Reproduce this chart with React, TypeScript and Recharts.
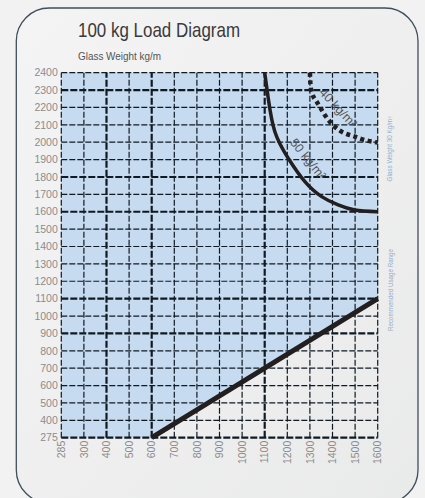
import React from "react";
import {
  Area,
  ComposedChart,
  Line,
  ReferenceDot,
  ReferenceLine,
  XAxis,
  YAxis,
} from "recharts";

// axis tick values (equally spaced on the drawing, not to scale)
const X_TICKS = [285, 300, 400, 500, 600, 700, 800, 900, 1000, 1100, 1200, 1300, 1400, 1500, 1600];
const Y_TICKS = [
  275, 400, 500, 600, 700, 800, 900, 1000, 1100, 1200, 1300, 1400, 1500, 1600, 1700, 1800, 1900,
  2000, 2100, 2200, 2300, 2400,
];
const X_HEAVY = [400, 600, 1100];
const Y_HEAVY = [900, 1100, 1600, 1800, 2300];

// recommended usage limit (lower edge of blue range)
const usageLimit = [
  { w: 600, g: 275 },
  { w: 1600, g: 1100 },
];

// 50 kg/m² glass weight curve
const curve50 = [
  { w: 1100, g: 2400 },
  { w: 1116, g: 2250 },
  { w: 1145, g: 2060 },
  { w: 1204, g: 1908 },
  { w: 1278, g: 1773 },
  { w: 1352, g: 1687 },
  { w: 1425, g: 1639 },
  { w: 1499, g: 1610 },
  { w: 1600, g: 1600 },
];

// 40 kg/m² glass weight curve
const curve40 = [
  { w: 1300, g: 2400 },
  { w: 1307, g: 2290 },
  { w: 1330, g: 2233 },
  { w: 1366, g: 2157 },
  { w: 1410, g: 2089 },
  { w: 1455, g: 2051 },
  { w: 1499, g: 2032 },
  { w: 1543, g: 2013 },
  { w: 1600, g: 1998 },
];

// position of a value along the evenly spaced ticks
const toIdx = (v: number, ticks: number[]) => {
  for (let i = 0; i < ticks.length - 1; i++) {
    if (v <= ticks[i + 1]) return i + (v - ticks[i]) / (ticks[i + 1] - ticks[i]);
  }
  return ticks.length - 1;
};

const pts = (arr: { w: number; g: number }[]) =>
  arr.map((p) => ({ x: toIdx(p.w, X_TICKS), y: toIdx(p.g, Y_TICKS) }));

const X_MAX = X_TICKS.length - 1;
const Y_MAX = Y_TICKS.length - 1;

const bandData = [
  { x: 0, band: [0, Y_MAX] },
  ...pts(usageLimit).map((p) => ({ x: p.x, band: [p.y, Y_MAX] })),
];

const narrow = "'Liberation Sans Narrow', 'Liberation Sans', Arial, sans-serif";
const gridColor = "#0f1a23";
const tickColor = "#8c8c8c";

const XTick = ({ x, y, payload }: any) => (
  <g transform={`translate(${x + 3.7},${y}) rotate(-90)`}>
    <text textAnchor="end" fontSize={10.5} fill={tickColor} fontFamily={narrow}>
      {X_TICKS[payload.value]}
    </text>
  </g>
);

const curveLabel = (text: string, angle: number) => (props: any) => (
  <text
    transform={`translate(${props.cx},${props.cy}) rotate(${angle})`}
    textAnchor="middle"
    dy={4}
    fontSize={12.5}
    fill="#555555"
    fontFamily={narrow}
  >
    {text}
  </text>
);

export default function App() {
  return (
    <div
      style={{
        position: "absolute",
        left: 0,
        top: 0,
        width: 425,
        height: 498,
        overflow: "hidden",
        background: "#f2f2f2",
      }}
    >
      <svg width={425} height={498} style={{ position: "absolute", left: 0, top: 0 }}>
        <defs>
          <linearGradient id="panelBg" x1="0" y1="0" x2="1" y2="1">
            <stop offset="0%" stopColor="#f4f4f4" />
            <stop offset="60%" stopColor="#eeeeee" />
            <stop offset="100%" stopColor="#e9eaea" />
          </linearGradient>
        </defs>
        <rect
          x={16.3}
          y={8}
          width={401.7}
          height={495}
          rx={33}
          ry={33}
          fill="url(#panelBg)"
          stroke="#3e4f5b"
          strokeWidth={1.3}
        />
      </svg>
      <div style={{ position: "absolute", left: 0, top: 0 }}>
        <ComposedChart
          width={425}
          height={498}
          margin={{ top: 72.7, right: 47.3, bottom: 30.3, left: 16.3 }}
        >
          <XAxis
            type="number"
            dataKey="x"
            domain={[0, X_MAX]}
            ticks={X_TICKS.map((_, i) => i)}
            interval={0}
            axisLine={false}
            tickLine={false}
            tickSize={0}
            tickMargin={3}
            height={30}
            tick={<XTick />}
          />
          <YAxis
            type="number"
            domain={[0, Y_MAX]}
            ticks={Y_TICKS.map((_, i) => i)}
            interval={0}
            axisLine={false}
            tickLine={false}
            tickSize={0}
            tickMargin={3.5}
            width={45}
            tickFormatter={(i: number) => String(Y_TICKS[i])}
            tick={{ fill: tickColor, fontSize: 10.5, fontFamily: narrow }}
          />
          <Area
            data={bandData}
            dataKey="band"
            type="linear"
            stroke="none"
            fill="#c6dbf0"
            fillOpacity={1}
            isAnimationActive={false}
          />
          {X_TICKS.map((t, i) => (
            <ReferenceLine
              key={`vx${t}`}
              x={i}
              stroke={gridColor}
              strokeWidth={X_HEAVY.includes(t) ? 2.2 : 1.2}
              strokeDasharray={X_HEAVY.includes(t) ? "7 2" : "6 2"}
            />
          ))}
          {Y_TICKS.map((t, i) => (
            <ReferenceLine
              key={`hy${t}`}
              y={i}
              stroke={gridColor}
              strokeWidth={Y_HEAVY.includes(t) || i === 0 ? 2.2 : 1.2}
              strokeDasharray={Y_HEAVY.includes(t) || i === 0 ? "7 2" : "6 2"}
            />
          ))}
          <Line
            data={pts(usageLimit)}
            dataKey="y"
            type="linear"
            stroke="#231f20"
            strokeWidth={5}
            dot={false}
            isAnimationActive={false}
          />
          <Line
            data={pts(curve50)}
            dataKey="y"
            type="natural"
            stroke="#231f20"
            strokeWidth={3.5}
            dot={false}
            isAnimationActive={false}
          />
          <Line
            data={pts(curve40)}
            dataKey="y"
            type="natural"
            stroke="#231f20"
            strokeWidth={4.5}
            strokeDasharray="4 3.5"
            dot={false}
            isAnimationActive={false}
          />
          <ReferenceDot
            x={toIdx(1424, X_TICKS)}
            y={toIdx(2197, Y_TICKS)}
            r={0}
            shape={curveLabel("40 kg/m²", 47)}
          />
          <ReferenceDot
            x={toIdx(1291, X_TICKS)}
            y={toIdx(1903, Y_TICKS)}
            r={0}
            shape={curveLabel("50 kg/m²", 51)}
          />
        </ComposedChart>
      </div>
      <svg
        width={425}
        height={498}
        style={{ position: "absolute", left: 0, top: 0, pointerEvents: "none" }}
      >
        <text
          x={78}
          y={37}
          fontSize={21}
          fill="#3a3a3a"
          fontFamily={narrow}
          textLength={162}
          lengthAdjust="spacingAndGlyphs"
        >
          100 kg Load Diagram
        </text>
        <text
          x={78}
          y={60}
          fontSize={10}
          fill="#555555"
          fontFamily={narrow}
          textLength={83}
          lengthAdjust="spacingAndGlyphs"
        >
          Glass Weight kg/m
        </text>
        <text
          transform="translate(391.5,149) rotate(-90)"
          textAnchor="middle"
          fontSize={7}
          fill="#8fb0d0"
          fontFamily={narrow}
          textLength={65}
          lengthAdjust="spacingAndGlyphs"
        >
          Glass Weight 30 Kg/m²
        </text>
        <text
          transform="translate(392.5,290) rotate(-90)"
          textAnchor="middle"
          fontSize={7}
          fill="#8fb0d0"
          fontFamily={narrow}
          textLength={82}
          lengthAdjust="spacingAndGlyphs"
        >
          Recommended Usage Range
        </text>
      </svg>
    </div>
  );
}
